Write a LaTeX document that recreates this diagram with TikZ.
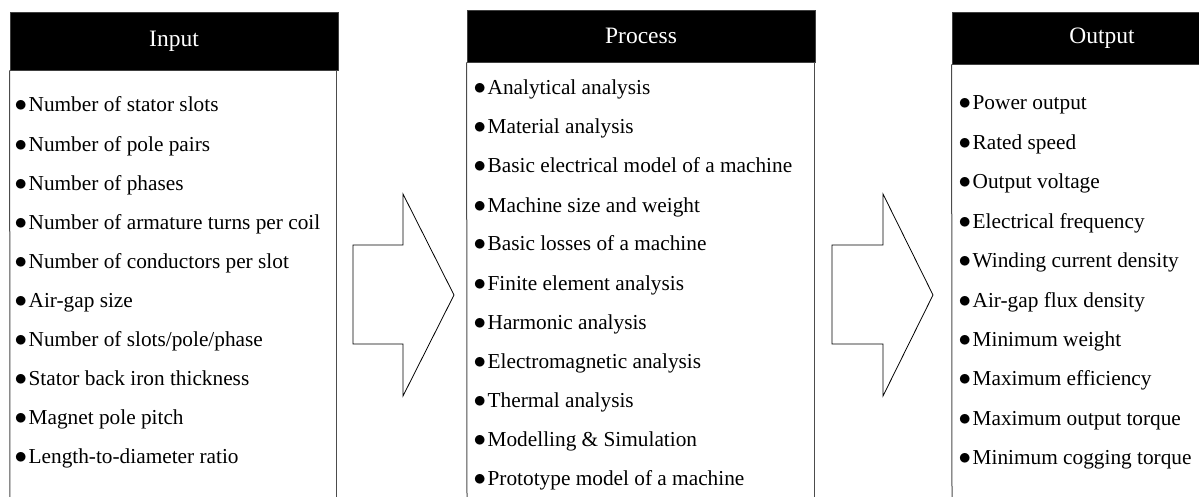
\documentclass[tikz,border=0pt]{standalone}
\usepackage{fontspec}
\setmainfont{Liberation Serif}
\newcommand{\itembul}{{\fontsize{25}{25}\selectfont$\bullet$}\hspace{1.5pt}}
\begin{document}
\begin{tikzpicture}[x=1pt,y=-1pt,
  hdr/.style={fill=black,draw=black!75,line width=0.8pt,text=white,inner sep=0pt,font=\fontsize{23.5}{27}\selectfont},
  boxline/.style={draw=black!70,line width=1pt},
  item/.style={anchor=base west,inner sep=0pt,font=\fontsize{21.3}{25}\selectfont},
  bigarrow/.style={draw=black,line width=0.8pt,fill=white,line join=miter}]
\useasboundingbox (0,0) rectangle (1199,497);
\clip (0,0) rectangle (1199,497);
% headers
\node[hdr,minimum width=328pt,minimum height=58pt] (inhdr) at (174,41) {Input};
\node[hdr,minimum width=348pt,minimum height=52pt] (prhdr) at (641,36) {Process};
\node[hdr,minimum width=300pt,minimum height=52pt] (outhdr) at (1102,38) {Output};
% body boxes (open at the bottom of the picture)
\coordinate (inbl) at (10,500);
\coordinate (inbr) at (336,500);
\coordinate (prbl) at (467,500);
\coordinate (prbr) at (814,500);
\coordinate (outbl) at (952,500);
\draw[boxline] (inbl) -- (inhdr.south west);
\draw[boxline] (inbr) -- (336,70);
\draw[boxline] (prbl) -- (prhdr.south west);
\draw[boxline] (prbr) -- (814,62);
\draw[boxline] (outbl) -- (outhdr.south west);
% input items
\foreach \t [count=\i from 0] in {Number of stator slots,Number of pole pairs,Number of phases,Number of armature turns per coil,Number of conductors per slot,Air-gap size,Number of slots/pole/phase,Stator back iron thickness,Magnet pole pitch,Length-to-diameter ratio}
  \node[item] (in\i) at (14.5,112+39.1*\i) {\itembul\t};
% process items
\foreach \t [count=\i from 0] in {Analytical analysis,Material analysis,Basic electrical model of a machine,Machine size and weight,Basic losses of a machine,Finite element analysis,Harmonic analysis,Electromagnetic analysis,Thermal analysis,Modelling \& Simulation,Prototype model of a machine}
  \node[item] (pr\i) at (473.5,95+39*\i) {\itembul\t};
% output items
\foreach \t [count=\i from 0] in {Power output,Rated speed,Output voltage,Electrical frequency,Winding current density,Air-gap flux density,Minimum weight,Maximum efficiency,Maximum output torque,Minimum cogging torque}
  \node[item] (out\i) at (958.5,110+39.4*\i) {\itembul\t};
% block arrows
\draw[bigarrow] (353,245) coordinate (a1) -- (403,245) -- (403,194) -- (454,295) coordinate (a1tip) -- (403,396) -- (403,344) -- (353,344) -- cycle;
\draw[bigarrow] (832,245) coordinate (a2) -- (883,245) -- (883,194) -- (933,295) coordinate (a2tip) -- (883,396) -- (883,344) -- (832,344) -- cycle;
\end{tikzpicture}
\end{document}
